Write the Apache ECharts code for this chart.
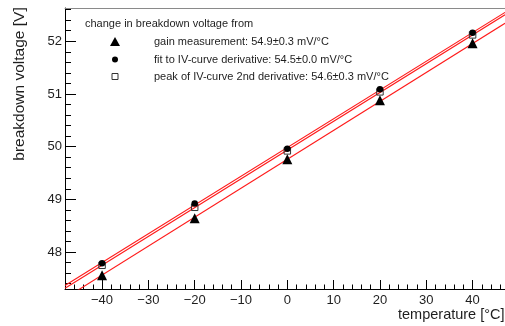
<!DOCTYPE html>
<html>
<head>
<meta charset="utf-8">
<script src="https://cdn.jsdelivr.net/npm/echarts@6/dist/echarts.min.js"></script>
<style>
  html, body { margin: 0; padding: 0; background: #ffffff; }
  #chart { width: 505px; height: 326px; }
</style>
</head>
<body>
<div id="chart"></div>
<script>
// Breakdown voltage vs. temperature, three extraction methods
const temperatures = [-40, -20, 0, 20, 40];
const gainVoltage = [47.56, 48.64, 49.76, 50.88, 51.96];
const fitVoltage = [47.79, 48.92, 49.96, 51.09, 52.16];
const peakVoltage = [47.75, 48.85, 49.92, 51.04, 52.12];

// temperature coefficients in mV/°C and their uncertainties
const slopes = [54.9, 54.5, 54.6];
const slopeErrors = [0.3, 0.0, 0.3];
const methodNames = [
  'gain measurement',
  'fit to IV-curve derivative',
  'peak of IV-curve 2nd derivative'
];
const legendTitle = 'change in breakdown voltage from';

const xMajorTicks = [-40, -30, -20, -10, 0, 10, 20, 30, 40];
const yMajorTicks = [48, 49, 50, 51, 52];

const X_MIN = -48, X_MAX = 47;
const Y_MIN = 47.3, Y_MAX = 52.63;

const FONT = "'Liberation Sans', Arial, Helvetica, sans-serif";
const TEXT = '#1e1e1e';

function range(a, b, step) {
  const out = [];
  for (let v = a; v <= b + 1e-9; v += step) out.push(Math.round(v * 100) / 100);
  return out;
}
const xMinorTicks = range(-48, 46, 2);
const yMinorTicks = range(47.4, 52.6, 0.2);

const pts = arr => temperatures.map((t, i) => [t, arr[i]]);
const mean = arr => arr.reduce((s, v) => s + v, 0) / arr.length;

// straight-line fit through the mean point with the quoted slope
function fitLine(values, slope) {
  const tMean = mean(temperatures);
  const vMean = mean(values);
  const f = t => vMean + slope / 1000 * (t - tMean);
  return [[X_MIN, f(X_MIN)], [X_MAX, f(X_MAX)]];
}

const minus = v => String(v).replace('-', '\u2212');

const chart = echarts.init(document.getElementById('chart'), null, { renderer: 'canvas' });

const lineStyle = { color: '#ff1a1a', width: 1.1 };
const markerDefs = [
  { symbol: 'triangle', size: 10, color: '#000', border: '#000', bw: 0 },
  { symbol: 'circle', size: 6.5, color: '#000', border: '#000', bw: 0 },
  { symbol: 'rect', size: 6.5, color: 'rgba(255,255,255,0)', border: '#333', bw: 1 }
];
const valueSets = [gainVoltage, fitVoltage, peakVoltage];

const series = [];
valueSets.forEach((vals, i) => {
  series.push({
    type: 'line',
    xAxisIndex: 0, yAxisIndex: 0,
    data: fitLine(vals, slopes[i]),
    showSymbol: false,
    symbol: 'none',
    lineStyle: lineStyle,
    silent: true,
    clip: true,
    z: 2
  });
});
valueSets.forEach((vals, i) => {
  const m = markerDefs[i];
  series.push({
    type: 'scatter',
    xAxisIndex: 0, yAxisIndex: 0,
    data: pts(vals),
    symbol: m.symbol,
    symbolSize: m.size,
    itemStyle: { color: m.color, borderColor: m.border, borderWidth: m.bw, opacity: 1 },
    z: 3 + (2 - i)
  });
});

// legend block drawn as graphic text and markers
const legendX = 115, textX = 154;
const rowsY = [42, 59.5, 76.5];
const legendGraphics = [{
  type: 'text', left: 85, top: 18,
  style: { text: legendTitle, font: '11px ' + FONT, fill: TEXT }
}];
methodNames.forEach((name, i) => {
  const label = name + ': ' + slopes[i].toFixed(1) + '\u00b1' + slopeErrors[i].toFixed(1) + ' mV/\u00b0C';
  legendGraphics.push({
    type: 'text', x: textX, y: rowsY[i],
    style: { text: label, font: '11px ' + FONT, fill: TEXT, verticalAlign: 'middle', align: 'left' }
  });
});
legendGraphics.push({
  type: 'polygon',
  shape: { points: [[legendX, rowsY[0] - 5], [legendX - 5, rowsY[0] + 4], [legendX + 5, rowsY[0] + 4]] },
  style: { fill: '#000' }
});
legendGraphics.push({
  type: 'circle', shape: { cx: legendX, cy: rowsY[1], r: 3 }, style: { fill: '#000' }
});
legendGraphics.push({
  type: 'rect', shape: { x: legendX - 3, y: rowsY[2] - 3, width: 6, height: 6 },
  style: { fill: 'none', stroke: '#333', lineWidth: 1 }
});

const option = {
  backgroundColor: '#ffffff',
  animation: false,
  grid: { left: 65, top: 8, right: 0, bottom: 37, containLabel: false },
  xAxis: [
    {
      type: 'value', position: 'bottom', min: X_MIN, max: X_MAX,
      axisLine: { show: true, onZero: false, lineStyle: { color: '#000', width: 1 } },
      axisTick: { show: true, inside: true, length: 9, customValues: xMajorTicks, lineStyle: { color: '#000' } },
      axisLabel: { show: true, customValues: xMajorTicks, formatter: minus, margin: 5,
        color: TEXT, fontSize: 13, fontFamily: FONT },
      splitLine: { show: false }
    },
    {
      type: 'value', position: 'bottom', min: X_MIN, max: X_MAX,
      axisLine: { show: false, onZero: false },
      axisTick: { show: true, inside: true, length: 4.5, customValues: xMinorTicks, lineStyle: { color: '#000' } },
      axisLabel: { show: false },
      splitLine: { show: false }
    },
    {
      type: 'value', position: 'top', min: X_MIN, max: X_MAX,
      axisLine: { show: true, onZero: false, lineStyle: { color: '#8a8a8a', width: 1 } },
      axisTick: { show: false }, axisLabel: { show: false }, splitLine: { show: false }
    }
  ],
  yAxis: [
    {
      type: 'value', position: 'left', min: Y_MIN, max: Y_MAX,
      axisLine: { show: true, onZero: false, lineStyle: { color: '#000', width: 1 } },
      axisTick: { show: true, inside: true, length: 11, customValues: yMajorTicks, lineStyle: { color: '#000' } },
      axisLabel: { show: true, customValues: yMajorTicks, margin: 3,
        color: TEXT, fontSize: 13, fontFamily: FONT },
      splitLine: { show: false }
    },
    {
      type: 'value', position: 'left', min: Y_MIN, max: Y_MAX,
      axisLine: { show: false, onZero: false },
      axisTick: { show: true, inside: true, length: 6, customValues: yMinorTicks, lineStyle: { color: '#000' } },
      axisLabel: { show: false },
      splitLine: { show: false }
    }
  ],
  graphic: [
    {
      type: 'text', x: 20, y: 84, rotation: Math.PI / 2,
      style: { text: 'breakdown voltage [V]', font: '15.5px ' + FONT, fill: TEXT, align: 'center', verticalAlign: 'middle' }
    },
    {
      type: 'text', x: 398, y: 315,
      style: { text: 'temperature [\u00b0C]', font: '14.5px ' + FONT, fill: TEXT, align: 'left', verticalAlign: 'middle' }
    }
  ].concat(legendGraphics),
  series: series
};

chart.setOption(option);
</script>
</body>
</html>
